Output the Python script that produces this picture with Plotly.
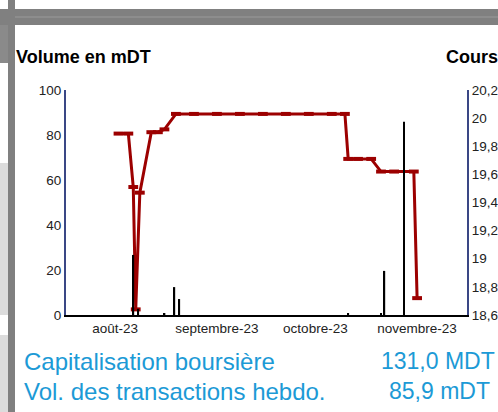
import plotly.graph_objects as go

# ---- data ----
price_dates = ["2023-08-02", "2023-08-05", "2023-08-06 12:00", "2023-08-07 06:00",
               "2023-08-08 12:00", "2023-08-12", "2023-08-14", "2023-08-16",
               "2023-08-19 12:00", "2023-08-25", "2023-09-01", "2023-09-08",
               "2023-09-15", "2023-09-22", "2023-09-29", "2023-10-06",
               "2023-10-10", "2023-10-11", "2023-10-14", "2023-10-18",
               "2023-10-21", "2023-10-25", "2023-10-31", "2023-11-01"]
price_values = [19.89, 19.89, 19.51, 18.64, 19.47, 19.90, 19.90, 19.92,
                20.03, 20.03, 20.03, 20.03, 20.03, 20.03, 20.03, 20.03,
                20.03, 19.71, 19.71, 19.71, 19.62, 19.62, 19.62, 18.72]

vol_dates = ["2023-08-06 12:00", "2023-08-08", "2023-08-16", "2023-08-19",
             "2023-08-20 12:00", "2023-10-11", "2023-10-21", "2023-10-22",
             "2023-10-28"]
vol_values = [26.7, 2.7, 0.8, 12.4, 7.1, 0.8, 0.8, 19.6, 85.9]

month_ticks = ["2023-08-01", "2023-09-01", "2023-10-01", "2023-11-01"]
month_labels = ["août-23", "septembre-23", "octobre-23", "novembre-23"]

vol_ticks = [0, 20, 40, 60, 80, 100]
vol_labels = ["0", "20", "40", "60", "80", "100"]
price_ticks = [18.6, 18.8, 19.0, 19.2, 19.4, 19.6, 19.8, 20.0, 20.2]
price_labels = ["18,6", "18,8", "19", "19,2", "19,4", "19,6", "19,8", "20", "20,2"]

cap_label, cap_value = "Capitalisation boursière", "131,0 MDT"
vol_label, vol_value = "Vol. des transactions hebdo.", "85,9 mDT"

# ---- layout geometry (pixels) ----
W, H = 498, 412
L, R, T, B = 66, 467, 90, 315
def px(x):
    return (x - L) / (R - L)
def py(y):
    return (B - y) / (B - T)

RED = "#9c0000"
NAVY = "#3a4785"
BLUE = "#1c9ad6"
FONT = "Liberation Sans, Arial, sans-serif"
DAY_MS = 86400000

fig = go.Figure()
fig.add_trace(go.Scatter(
    x=price_dates, y=price_values, yaxis="y", mode="lines+markers",
    line=dict(color=RED, width=3),
    marker=dict(symbol="line-ew", size=7, color=RED, line=dict(color=RED, width=4)),
    hoverinfo="skip"))
fig.add_trace(go.Bar(
    x=vol_dates, y=vol_values, yaxis="y2", width=0.55 * DAY_MS,
    marker=dict(color="black", line=dict(width=0)), hoverinfo="skip"))

def rect(x0, y0, x1, y1, color):
    return dict(type="rect", xref="paper", yref="paper",
                x0=px(x0), x1=px(x1), y0=py(y1), y1=py(y0),
                fillcolor=color, line=dict(width=0), layer="below")

shapes = [
    rect(0, 9, W, 25, "#808080"),
    rect(15, 16.5, W, 17.5, "#9a9a9a"),
    rect(0, 25, 8, 63, "#8a8a8a"),
    rect(0, 163, 8, 315, "#dcdcdc"),
    rect(0, 335, 8, H, "#dcdcdc"),
    rect(8, 0, 15, H, "#808080"),
]

def ann(text, x, y, size, color, bold=False, xanchor="left"):
    return dict(text=("<b>%s</b>" % text) if bold else text, xref="paper", yref="paper",
                x=px(x), y=py(y), xanchor=xanchor, yanchor="middle", showarrow=False,
                font=dict(family=FONT, size=size, color=color))

annotations = [
    ann("Volume en mDT", 14, 57, 18, "black", bold=True),
    ann("Cours", 444, 57, 18, "black", bold=True),
    ann(cap_label, 22, 361, 24, BLUE),
    ann(vol_label, 22, 391, 24, BLUE),
    ann(cap_value, 438, 361, 23, BLUE, xanchor="center"),
    ann(vol_value, 439, 391, 23, BLUE, xanchor="center"),
]

fig.update_layout(
    width=W, height=H, autosize=False,
    margin=dict(l=L, r=W - R, t=T, b=H - B, pad=0, autoexpand=False),
    paper_bgcolor="white", plot_bgcolor="white",
    showlegend=False,
    font=dict(family=FONT, size=13.5, color="#222222"),
    xaxis=dict(type="date", range=["2023-07-17", "2023-11-16 05:00"],
               tickvals=month_ticks, ticktext=month_labels, automargin=False,
               showline=True, linecolor="black", linewidth=2,
               showgrid=False, zeroline=False, ticks="", fixedrange=True),
    yaxis=dict(range=[18.6, 20.2], side="right", automargin=False,
               tickvals=price_ticks, ticktext=price_labels,
               showline=True, linecolor=NAVY, linewidth=2,
               showgrid=False, zeroline=False, ticks=""),
    yaxis2=dict(range=[0, 100], side="left", overlaying="y", anchor="x",
                automargin=False,
                tickvals=vol_ticks, ticktext=vol_labels,
                showline=True, linecolor=NAVY, linewidth=2,
                showgrid=False, zeroline=False, ticks=""),
    shapes=shapes,
    annotations=annotations,
)

fig.write_html(
    "out.html",
    config={"displayModeBar": False},
    post_script="document.body.style.margin='0';document.body.style.overflow='hidden';",
)
